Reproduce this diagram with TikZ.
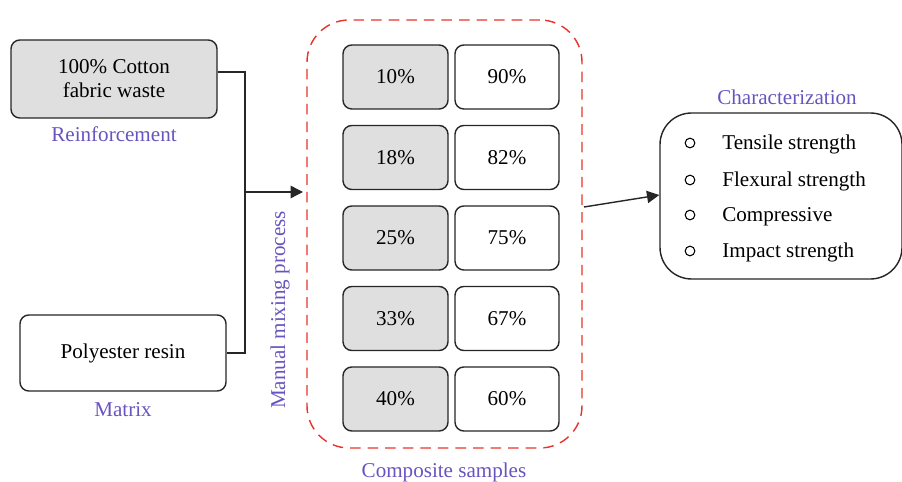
\documentclass[tikz,border=0pt]{standalone}
\usepackage{fontspec}
\setmainfont{Liberation Serif}
\usetikzlibrary{arrows.meta}
\definecolor{lblpurple}{RGB}{104,84,190}
\definecolor{boxgray}{RGB}{224,223,224}
\definecolor{dashred}{RGB}{232,50,42}
\begin{document}
\begin{tikzpicture}[x=0.02cm,y=-0.02cm,
  box/.style={draw=black!85,line width=0.8pt,rounded corners=5pt,inner sep=0pt,font=\fontsize{12}{13.7}\selectfont,align=center},
  gbox/.style={box,fill=boxgray},
  wbox/.style={box,fill=white},
  lbl/.style={text=lblpurple,font=\fontsize{12}{14}\selectfont,inner sep=0pt},
  conn/.style={draw=black!85,line width=0.8pt},
  arr/.style={conn,-{Triangle[length=7pt,width=7pt]}},
  bullet/.style={circle,draw=black,line width=0.6pt,minimum size=5.5pt,inner sep=0pt}]
\useasboundingbox (0,0) rectangle (902,482);
% left boxes
\node[gbox,minimum width=206*0.02cm,minimum height=78*0.02cm] (cotton) at (114,79) {100\% Cotton\\fabric waste};
\node[lbl] (reinf) at (114,134) {Reinforcement};
\node[wbox,minimum width=206*0.02cm,minimum height=76*0.02cm] (resin) at (123,353) {Polyester resin};
\node[lbl] (matrix) at (123,410) {Matrix};
\coordinate (jt) at (245,72);
\coordinate (jb) at (245,353);
\coordinate (jm) at (245,192);
\coordinate (jend) at (303,192);
\draw[conn] (cotton.east |- jt) -- (jt) -- (jb) -- (resin.east);
\draw[arr] (jm) -- (jend);
% composite samples
\node[draw=dashred,dashed,dash pattern=on 6pt off 4pt,line width=0.8pt,rounded corners=24pt,minimum width=275*0.02cm,minimum height=428*0.02cm,inner sep=0pt] (comp) at (444.5,234) {};
\node[lbl,rotate=90] (manual) at (280,310) {Manual mixing process};
\node[lbl] (complbl) at (444,472) {Composite samples};
\foreach \i/\a/\b in {0/10/90,1/18/82,2/25/75,3/33/67,4/40/60}{
  \node[gbox,minimum width=105*0.02cm,minimum height=64*0.02cm] (l\i) at (395.5,{77+80.5*\i}) {\a\%};
  \node[wbox,minimum width=104*0.02cm,minimum height=64*0.02cm] (r\i) at (507,{77+80.5*\i}) {\b\%};
}
% characterization
\node[wbox,rounded corners=18pt,minimum width=242*0.02cm,minimum height=166*0.02cm] (char) at (781,196) {};
\node[lbl] (charlbl) at (787,97) {Characterization};
\foreach \j/\t/\y in {0/Tensile strength/143,1/Flexural strength/180,2/Compressive/215,3/Impact strength/251}{
  \node[bullet] (b\j) at (690,\y) {};
  \node[anchor=west,inner sep=0pt,font=\fontsize{12}{14}\selectfont] (t\j) at (722,\y+1.5) {\t};
}
\coordinate (cs) at (584,207);
\draw[arr] (cs) -- (char.west |- 0,195);
\end{tikzpicture}
\end{document}
